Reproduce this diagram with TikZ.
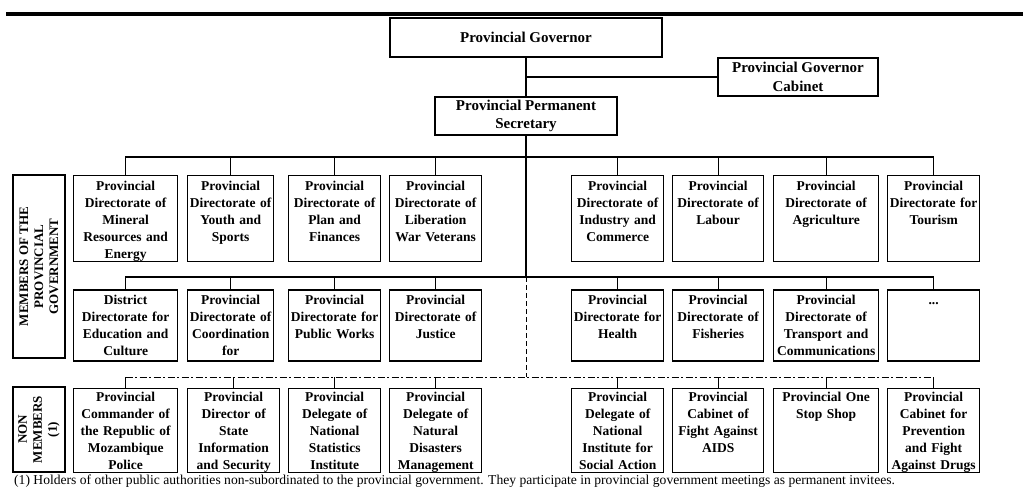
\documentclass[tikz,border=0pt]{standalone}
\usepackage{fontspec}
\setmainfont{Liberation Serif}
\usetikzlibrary{positioning}
\tikzstyle{rec} = [rectangle,draw,line width=1.3pt,inner xsep=0pt,inner ysep=3pt,align=center,text height=12pt,font=\bfseries\fontsize{13.5}{17}\selectfont]
\tikzstyle{head} = [rectangle,draw,line width=1.3pt,inner sep=1pt,align=center,font=\bfseries\fontsize{15}{18.5}\selectfont]
\tikzstyle{rowone} = [rec,text depth=68pt]
\tikzstyle{rowtwo} = [rec,text depth=53pt]
\tikzstyle{rowthree} = [rec,text height=10pt,text depth=68pt]
\tikzstyle{side} = [rectangle,draw,line width=1.3pt,rotate=90,align=center,inner sep=1pt,font=\bfseries\fontsize{13}{15}\selectfont]
\tikzstyle{link} = [line width=1.2pt]

\begin{document}
\begin{tikzpicture}[x=1pt,y=-1pt]
	\useasboundingbox (0,0) rectangle (1023,488);
	\draw[line width=4pt] (6,14) -- (1023,14);

	\node[head,minimum width=272pt,minimum height=39pt](governor) at (526,37.5) {Provincial Governor};
	\node[head,minimum width=160pt,minimum height=38pt](cabinet) at (798,77) {Provincial Governor\\Cabinet};
	\node[head,minimum width=182pt,minimum height=38pt](secretary) at (526,116) {Provincial Permanent\\Secretary};
	\coordinate (cabjoin) at (526,77);
	\coordinate (bus1) at (526,157);
	\coordinate (bus2) at (526,277);
	\coordinate (bus3) at (526,377);
	\draw[link] (governor) -- (secretary);
	\draw[link] (cabjoin) -- (cabinet.west);
	\draw[link] (secretary) -- (bus2);

	% members of the provincial government
	\node[rowone,text width=104pt,anchor=north west](mineral) at (73,175) {Provincial\\Directorate of\\Mineral\\Resources and\\Energy};
	\node[rowone,text width=86pt,anchor=north west](youth) at (187,175) {Provincial\\Directorate of\\Youth and\\Sports};
	\node[rowone,text width=92pt,anchor=north west](plan) at (288,175) {Provincial\\Directorate of\\Plan and\\Finances};
	\node[rowone,text width=92pt,anchor=north west](veterans) at (389,175) {Provincial\\Directorate of\\Liberation\\War Veterans};
	\node[rowone,text width=92pt,anchor=north west](industry) at (571,175) {Provincial\\Directorate of\\Industry and\\Commerce};
	\node[rowone,text width=91pt,anchor=north west](labour) at (672,175) {Provincial\\Directorate of\\Labour};
	\node[rowone,text width=105pt,anchor=north west](agriculture) at (773,175) {Provincial\\Directorate of\\Agriculture};
	\node[rowone,text width=92pt,anchor=north west](tourism) at (887,175) {Provincial\\Directorate for\\Tourism};

	\node[rowtwo,text width=104pt,below=27pt of mineral](education) {District\\Directorate for\\Education and\\Culture};
	\node[rowtwo,text width=86pt,below=27pt of youth](coordination) {Provincial\\Directorate of\\Coordination\\for};
	\node[rowtwo,text width=92pt,below=27pt of plan](works) {Provincial\\Directorate for\\Public Works};
	\node[rowtwo,text width=92pt,below=27pt of veterans](justice) {Provincial\\Directorate of\\Justice};
	\node[rowtwo,text width=92pt,below=27pt of industry](health) {Provincial\\Directorate for\\Health};
	\node[rowtwo,text width=91pt,below=27pt of labour](fisheries) {Provincial\\Directorate of\\Fisheries};
	\node[rowtwo,text width=105pt,below=27pt of agriculture](transport) {Provincial\\Directorate of\\Transport and\\Communications};
	\node[rowtwo,text width=92pt,below=27pt of tourism](more) {...};

	% non members
	\node[rowthree,text width=104pt,below=26pt of education](police) {Provincial\\Commander of\\the Republic of\\Mozambique\\Police};
	\node[rowthree,text width=92pt,below=26pt of coordination,xshift=3pt](security) {Provincial\\Director of\\State\\Information\\and Security};
	\node[rowthree,text width=92pt,below=26pt of works](statistics) {Provincial\\Delegate of\\National\\Statistics\\Institute};
	\node[rowthree,text width=92pt,below=26pt of justice](disasters) {Provincial\\Delegate of\\Natural\\Disasters\\Management};
	\node[rowthree,text width=92pt,below=26pt of health](social) {Provincial\\Delegate of\\National\\Institute for\\Social Action};
	\node[rowthree,text width=91pt,below=26pt of fisheries](aids) {Provincial\\Cabinet of\\Fight Against\\AIDS};
	\node[rowthree,text width=105pt,below=26pt of transport](onestop) {Provincial One\\Stop Shop};
	\node[rowthree,text width=92pt,below=26pt of more](drugs) {Provincial\\Cabinet for\\Prevention\\and Fight\\Against Drugs};

	\node[side,minimum width=183pt,minimum height=52pt](members) at (39,266.5) {MEMBERS OF THE\\PROVINCIAL\\GOVERNMENT};
	\node[side,minimum width=85pt,minimum height=52pt](nonmembers) at (39,429.5) {NON\\MEMBERS\\(1)};

	\draw[link] (mineral.north) |- (bus1);
	\draw[link] (youth.north) |- (bus1);
	\draw[link] (plan.north) |- (bus1);
	\draw[link] (veterans.north) |- (bus1);
	\draw[link] (industry.north) |- (bus1);
	\draw[link] (labour.north) |- (bus1);
	\draw[link] (agriculture.north) |- (bus1);
	\draw[link] (tourism.north) |- (bus1);

	\draw[link] (education.north) |- (bus2);
	\draw[link] (coordination.north) |- (bus2);
	\draw[link] (works.north) |- (bus2);
	\draw[link] (justice.north) |- (bus2);
	\draw[link] (health.north) |- (bus2);
	\draw[link] (fisheries.north) |- (bus2);
	\draw[link] (transport.north) |- (bus2);
	\draw[link] (more.north) |- (bus2);

	\draw[line width=1pt,dash pattern=on 5pt off 3pt] (bus2) -- (bus3);
	\draw[line width=1pt,dash pattern=on 7pt off 2.5pt on 2pt off 2.5pt] (police.north |- bus3) -- (drugs.north |- bus3);
	\draw[link] (police.north) -- (police.north |- bus3);
	\draw[link] (security.north) -- (security.north |- bus3);
	\draw[link] (statistics.north) -- (statistics.north |- bus3);
	\draw[link] (disasters.north) -- (disasters.north |- bus3);
	\draw[link] (social.north) -- (social.north |- bus3);
	\draw[link] (aids.north) -- (aids.north |- bus3);
	\draw[link] (onestop.north) -- (onestop.north |- bus3);
	\draw[link] (drugs.north) -- (drugs.north |- bus3);

	\node[anchor=base west,inner sep=0pt,font=\fontsize{13.6}{15}\selectfont](note) at (14,484.5) {(1) Holders of other public authorities non-subordinated to the provincial government. They participate in provincial government meetings as permanent invitees.};
\end{tikzpicture}
\end{document}
